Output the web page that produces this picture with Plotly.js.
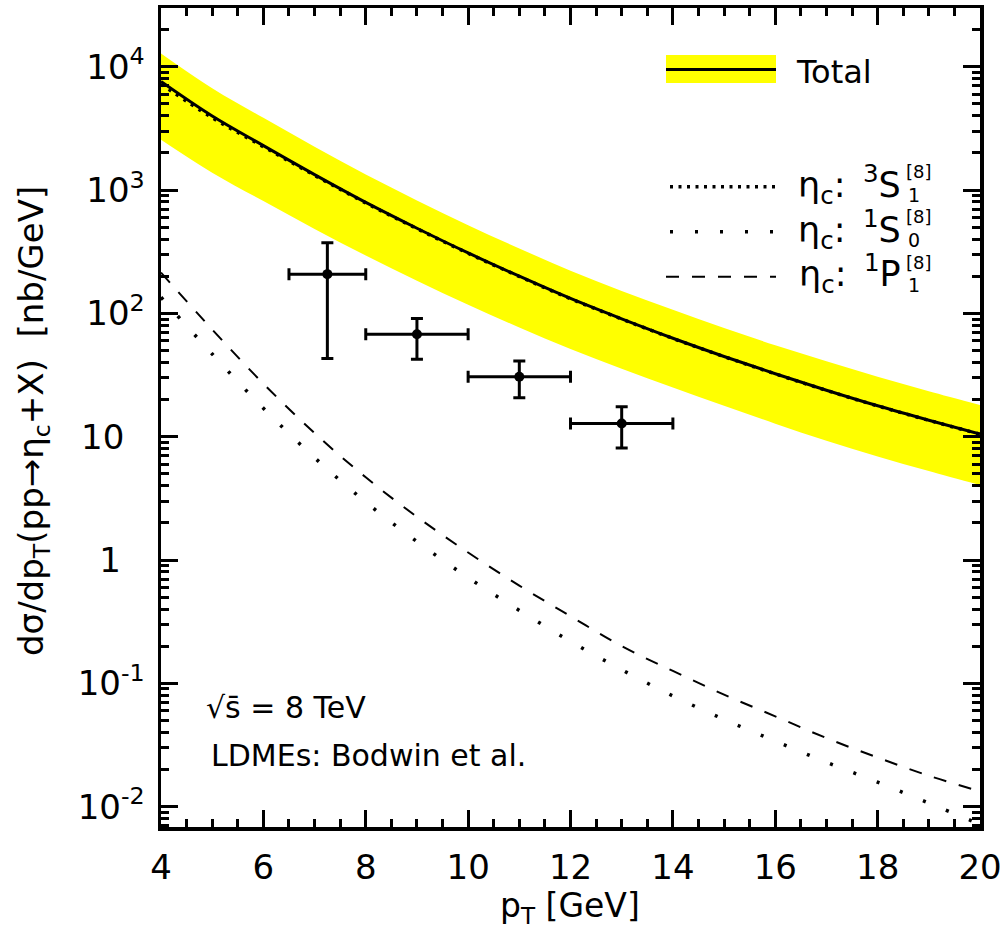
<!DOCTYPE html>
<html>
<head>
<meta charset="utf-8">
<script src="https://cdn.plot.ly/plotly-3.0.1.min.js"></script>
<style>
html,body{margin:0;padding:0;background:#fff;}
#chart{width:1007px;height:942px;}
</style>
</head>
<body>
<div id="chart"></div>
<script>
// ---- data ----
const pT        = [4, 5, 6, 7, 8, 9, 10, 11, 12, 13, 14, 15, 16, 17, 18, 19, 20];
const total     = [7586, 3981, 2291, 1334, 794, 490, 309, 200, 132, 90.2, 62.8, 44.7, 32.4, 23.8, 17.8, 13.6, 10.5];
const bandUp    = [12800, 6690, 3850, 2240, 1334, 823, 519, 336, 222, 152, 107, 76, 55.1, 40.9, 30.6, 23.4, 18.1];
const bandLo    = [2553, 1380, 813, 484, 295, 184, 117.5, 76.9, 51.4, 35.5, 25.0, 17.8, 12.75, 9.26, 6.92, 5.27, 4.06];
const s3S1      = [7237, 3860, 2247, 1316, 786, 486, 307, 199, 131.4, 89.9, 62.6, 44.6, 32.3, 23.74, 17.76, 13.57, 10.48];
const s1S0      = [135, 46.8, 17, 6.76, 2.95, 1.41, 0.72, 0.39, 0.219, 0.129, 0.079, 0.051, 0.034, 0.0229, 0.0158, 0.0107, 0.0072];
const p1P1      = [214, 74, 26.9, 10.7, 4.68, 2.24, 1.15, 0.62, 0.35, 0.20, 0.126, 0.081, 0.054, 0.036, 0.025, 0.0178, 0.0133];

const dataX     = [7.25, 9, 11, 13];
const dataXLo   = [6.5, 8, 10, 12];
const dataXHi   = [8, 10, 12, 14];
const dataY     = [208, 67.6, 30.6, 12.8];
const dataYLo   = [43, 42.4, 20.7, 8.1];
const dataYHi   = [374, 91, 41, 17.5];

const yTickVals = [1e-2, 1e-1, 1, 10, 100, 1e3, 1e4];
const yTickText = ['10<sup>-2</sup>', '10<sup>-1</sup>', '1\u2002\u2009', '10\u2002\u200a', '10<sup>2</sup>', '10<sup>3</sup>', '10<sup>4</sup>'];

// ---- drawing ----
const FONT = 'DejaVu Sans, Liberation Sans, Arial, sans-serif';
const minorY = [];
for (let k = -3; k <= 4; k++) for (let m = 2; m <= 9; m++) minorY.push(m * Math.pow(10, k));

const traces = [
  {x: pT, y: bandLo, mode: 'lines', line: {width: 0, color: 'rgba(0,0,0,0)', shape: 'spline'}, hoverinfo: 'skip'},
  {x: pT, y: bandUp, mode: 'lines', line: {width: 0, color: 'rgba(0,0,0,0)', shape: 'spline'}, fill: 'tonexty', fillcolor: '#ffff00', hoverinfo: 'skip'},
  {x: pT, y: p1P1, mode: 'lines', line: {color: 'black', width: 2, dash: '13px,13px', shape: 'spline'}},
  {x: pT, y: s1S0, mode: 'lines', line: {color: 'black', width: 3.5, dash: '3px,22px', shape: 'spline'}},
  {x: pT, y: total, mode: 'lines', line: {color: 'black', width: 3, shape: 'spline'}},
  {x: pT, y: s3S1, mode: 'lines', line: {color: 'black', width: 3.5, dash: '3px,6px', shape: 'spline'}},
  {x: dataX, y: dataY, mode: 'markers', marker: {color: 'black', size: 10},
   error_y: {type: 'data', symmetric: false,
     array: dataY.map((v, i) => dataYHi[i] - v), arrayminus: dataY.map((v, i) => v - dataYLo[i]),
     color: 'black', thickness: 3, width: 6},
   error_x: {type: 'data', symmetric: false,
     array: dataX.map((v, i) => dataXHi[i] - v), arrayminus: dataX.map((v, i) => v - dataXLo[i]),
     color: 'black', thickness: 3, width: 6}}
];

// pixel helpers for the legend / text placement (plot area 161..980 x 8..827)
const px = v => (v - 161) / 819;
const py = v => (827 - v) / 819;

const shapes = [
  {type: 'rect', xref: 'paper', yref: 'paper', x0: px(666), x1: px(776), y0: py(83), y1: py(55), fillcolor: '#ffff00', line: {width: 0}},
  {type: 'line', xref: 'paper', yref: 'paper', x0: px(666), x1: px(776), y0: py(69.5), y1: py(69.5), line: {color: 'black', width: 3}},
  {type: 'line', xref: 'paper', yref: 'paper', x0: px(670), x1: px(776), y0: py(186.7), y1: py(186.7), line: {color: 'black', width: 3.5, dash: '3px,5.5px'}},
  {type: 'line', xref: 'paper', yref: 'paper', x0: px(670), x1: px(776), y0: py(231.7), y1: py(231.7), line: {color: 'black', width: 3.5, dash: '3px,22px'}},
  {type: 'line', xref: 'paper', yref: 'paper', x0: px(666), x1: px(776), y0: py(276.7), y1: py(276.7), line: {color: 'black', width: 2, dash: '13px,13px'}}
];

function ann(text, x, y, size, xanchor, extra) {
  return Object.assign({text: text, xref: 'paper', yref: 'paper', x: px(x), y: py(y), xanchor: xanchor || 'left', yanchor: 'middle',
    showarrow: false, font: {family: FONT, size: size, color: 'black'}}, extra || {});
}

const legRows = [
  {main: 'η<sub>c</sub>:\u2002<sup>3</sup>S', sub: '1', y: 184},
  {main: 'η<sub>c</sub>:\u2002<sup>1</sup>S', sub: '0', y: 229},
  {main: 'η<sub>c</sub>:\u2002<sup>1</sup>P', sub: '1', y: 274}
];

const annotations = [
  ann('Total', 794, 72, 32),
  ann('√s̄ = 8 TeV', 204, 707, 30),
  ann('LDMEs: Bodwin et al.', 209, 755, 30),
  ann('p<sub>T</sub> [GeV]', 570, 907, 33, 'center'),
  ann('dσ/dp<sub>T</sub>(pp→η<sub>c</sub>+X)\u00a0\u00a0[nb/GeV]', 33, 421, 34, 'center', {textangle: -90})
];
legRows.forEach(r => {
  annotations.push(ann(r.main, 903, r.y, 35, 'right'));
  annotations.push(ann('[8]', 904, r.y - 12, 18, 'left'));
  annotations.push(ann(r.sub, 906, r.y + 11, 19, 'left'));
});

const axisCommon = {
  showline: true, linecolor: 'black', linewidth: 3.5, mirror: 'allticks',
  ticks: 'inside', ticklen: 17, tickwidth: 3, tickcolor: 'black',
  showgrid: false, zeroline: false,
  tickfont: {family: FONT, size: 34, color: 'black'}
};

const layout = {
  width: 1007, height: 942,
  margin: {l: 161, r: 27, t: 8, b: 115},
  paper_bgcolor: 'white', plot_bgcolor: 'white',
  showlegend: false,
  xaxis: Object.assign({}, axisCommon, {
    range: [4, 20], tick0: 4, dtick: 2, ticklabelstandoff: 8,
    minor: {dtick: 0.5, ticks: 'inside', ticklen: 8, tickwidth: 3, tickcolor: 'black', showgrid: false}
  }),
  yaxis: Object.assign({}, axisCommon, {
    type: 'log', range: [-2.165, 4.476], tickmode: 'array', tickvals: yTickVals, ticktext: yTickText, ticklabelstandoff: 6,
    minor: {tickmode: 'array', tickvals: minorY, ticks: 'inside', ticklen: 8, tickwidth: 3, tickcolor: 'black', showgrid: false}
  }),
  shapes: shapes,
  annotations: annotations
};

Plotly.newPlot('chart', traces, layout, {staticPlot: true, displayModeBar: false});
</script>
</body>
</html>
